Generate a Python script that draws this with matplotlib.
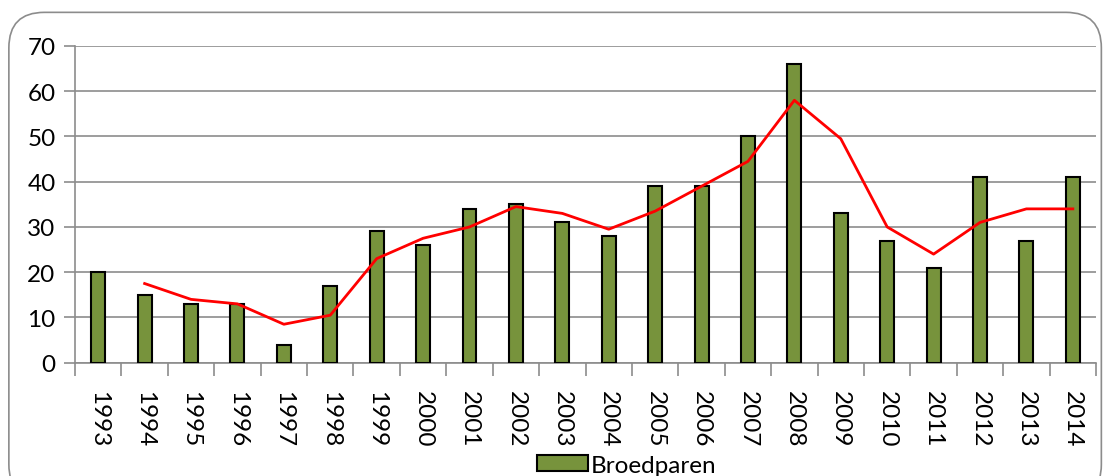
import matplotlib
matplotlib.use("Agg")
import matplotlib.pyplot as plt
from matplotlib.patches import FancyBboxPatch

years = [str(y) for y in range(1993, 2015)]
broedparen = [20, 15, 13, 13, 4, 17, 29, 26, 34, 35, 31, 28, 39, 39, 50, 66, 33, 27, 21, 41, 27, 41]
trend_years = years[1:]
trend = [17.5, 14, 13, 8.5, 10.5, 23, 27.5, 30, 34.5, 33, 29.5, 33.5, 39, 44.5, 58, 49.5, 30, 24, 31, 34, 34]

plt.rcParams['font.family'] = ['Lato', 'DejaVu Sans']
FS = 17.5

fig = plt.figure(figsize=(11.08, 4.77), dpi=100)
border = FancyBboxPatch((0.008, -0.05), 0.986, 1.022, boxstyle="round,pad=0,rounding_size=0.032",
                        transform=fig.transFigure, fill=False, edgecolor='#8c8c8c', linewidth=1.2,
                        mutation_aspect=11.08/4.77)
fig.patches.append(border)

ax = fig.add_axes([0.0677, 0.2375, 0.9215, 0.664])
x = list(range(len(years)))
bars = ax.bar(x, broedparen, width=0.3, color='#77933C', edgecolor='black', linewidth=1.5,
              label='Broedparen', zorder=3)
ax.plot(x[1:], trend, color='#FF0000', linewidth=2, zorder=4)

ax.set_xlim(-0.5, len(years) - 0.5)
ax.set_ylim(0, 70)
ax.set_yticks(range(0, 71, 10))
ax.set_yticklabels([str(v) for v in range(0, 71, 10)], fontsize=FS)
ax.yaxis.grid(True, color='#8c8c8c', linewidth=1.2, zorder=0)
ax.set_axisbelow(True)
for s in ['top', 'right']:
    ax.spines[s].set_visible(False)
ax.spines['left'].set_color('#8c8c8c')
ax.spines['bottom'].set_color('#8c8c8c')
ax.spines['left'].set_linewidth(1.2)
ax.spines['bottom'].set_linewidth(1.2)
ax.tick_params(axis='y', length=8, color='#8c8c8c', width=1.2, pad=6)

ax.set_xticks([i - 0.5 for i in range(len(years) + 1)], minor=False)
ax.set_xticklabels([])
ax.tick_params(axis='x', which='major', length=9, color='#8c8c8c', width=1.2, direction='out')
ax.set_xticks(x, minor=True)
ax.set_xticklabels(years, minor=True, rotation=270, fontsize=FS)
ax.tick_params(axis='x', which='minor', length=0, pad=20)

fig.legend(handles=[bars], labels=['Broedparen'], loc='upper left', bbox_to_anchor=(0.4847, 0.045),
           bbox_transform=fig.transFigure, frameon=False, fontsize=FS,
           handlelength=2.1, handleheight=0.66, handletextpad=0.1, borderpad=0, borderaxespad=0)

fig.savefig('out.png', dpi=100)
